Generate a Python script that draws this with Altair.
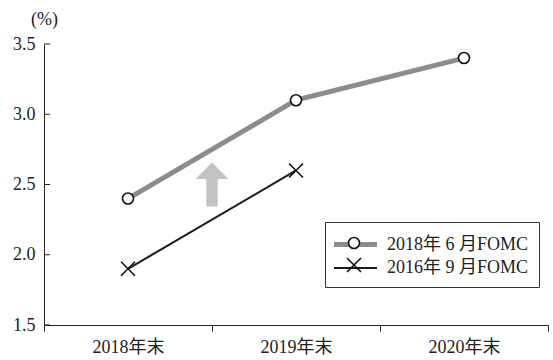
import altair as alt
import pandas as pd

# Year-end projections (%) from two FOMC meetings
categories = ["2018年末", "2019年末", "2020年末"]
series_names = ["2018年 6 月FOMC", "2016年 9 月FOMC"]
june_2018 = [2.4, 3.1, 3.4]
sept_2016 = [1.9, 2.6]
y_ticks = [1.5, 2.0, 2.5, 3.0, 3.5]

# Upward-shift arrow placed between the first two year-ends
arrow_cat = ["2018年末"]
arrow_value = [2.5]

rows = []
for c, v in zip(categories, june_2018):
    rows.append({"cat": c, "value": v, "series": series_names[0]})
for c, v in zip(categories, sept_2016):
    rows.append({"cat": c, "value": v, "series": series_names[1]})
df = pd.DataFrame(rows)
df["series_m"] = df["series"]

W, H = 504, 281
FONT = "'Liberation Serif', 'Noto Sans CJK JP', serif"
FS = 18

xs = alt.Scale(domain=categories, paddingInner=0, paddingOuter=0)
ys = alt.Scale(domain=[1.5, 3.5], nice=False, zero=False)

# symbol paths in units of half the symbol side (size 400 -> 10 px per unit)
MSIZE = 400
CIRCLE = "M-0.55,0A0.55,0.55 0 1 1 0.55,0A0.55,0.55 0 1 1 -0.55,0Z"
XMARK = "M-0.7,-0.7L0.7,0.7M0.7,-0.7L-0.7,0.7"
SWATCH = "M-2.15,0L2.15,0"
ARROW = "M0,-1L0.75,-0.245L0.26,-0.245L0.26,1L-0.26,1L-0.26,-0.245L-0.75,-0.245Z"

LEG_X, LEG_Y = 281, 178
PAD = 10

# Two legends share one spot: line swatches underneath, marker swatches on top
common = dict(title=None, orient="none", legendX=LEG_X, legendY=LEG_Y,
              symbolSize=MSIZE, padding=PAD, rowPadding=2, labelFont=FONT,
              labelFontSize=FS, labelOffset=19, symbolOffset=8)
line_legend = dict(common, symbolType=SWATCH, strokeColor="#333", fillColor="white",
                   labelColor="#222", zindex=0)
mark_legend = dict(common, symbolStrokeWidth=1.6, labelColor="transparent", zindex=1)

x_enc = alt.X("cat:N", scale=xs, sort=categories,
              axis=alt.Axis(title=None, tickBand="extent", tickSize=6,
                            labelPadding=16, labelAngle=0, labelAlign="center",
                            domainColor="#222", tickColor="#222", labelFont=FONT,
                            labelFontSize=FS, labelColor="#222"))
y_enc = alt.Y("value:Q", scale=ys,
              axis=alt.Axis(title="(%)", titleAngle=0, titleX=0, titleY=-25,
                            titleAlign="center", titleBaseline="middle",
                            titleFont=FONT, titleFontSize=FS, titleFontWeight="normal",
                            titleColor="#222", values=y_ticks, format=".1f",
                            ticks=False, labelPadding=9, domainColor="#222",
                            labelFont=FONT, labelFontSize=FS, labelColor="#222"))

lines = alt.Chart(df).mark_line().encode(
    x=x_enc,
    y=y_enc,
    color=alt.Color("series:N", sort="descending",
                    scale=alt.Scale(range=["#8c8c8c", "#1a1a1a"]),
                    legend=alt.Legend(**line_legend)),
    strokeWidth=alt.StrokeWidth("series:N", sort="descending",
                                scale=alt.Scale(range=[5, 2]),
                                legend=alt.Legend(**line_legend)),
)

points = alt.Chart(df).mark_point(filled=True, size=MSIZE, strokeWidth=1.6,
                                  opacity=1).encode(
    x=alt.X("cat:N", scale=xs, sort=categories),
    y=alt.Y("value:Q", scale=ys),
    shape=alt.Shape("series_m:N", sort="descending",
                    scale=alt.Scale(range=[CIRCLE, XMARK]),
                    legend=alt.Legend(**mark_legend)),
    fill=alt.Fill("series_m:N", sort="descending",
                  scale=alt.Scale(range=["white", "#111"]),
                  legend=alt.Legend(**mark_legend)),
    stroke=alt.Stroke("series_m:N", sort="descending",
                      scale=alt.Scale(range=["#111", "#111"]),
                      legend=alt.Legend(**mark_legend)),
)

arrow_df = pd.DataFrame({"cat": arrow_cat, "value": arrow_value})
arrow = alt.Chart(arrow_df).mark_point(shape=ARROW, filled=True, size=1936,
                                       color="#c3c3c3", opacity=1).encode(
    x=alt.X("cat:N", scale=xs, sort=categories, bandPosition=1),
    y=alt.Y("value:Q", scale=ys),
)

# inward-facing tick marks on the value axis
tick_df = pd.DataFrame({"value": y_ticks})
yticks = alt.Chart(tick_df).mark_rule(color="#222", strokeWidth=1).encode(
    y=alt.Y("value:Q", scale=ys),
    x=alt.value(0),
    x2=alt.value(6),
)

chart = alt.layer(arrow, yticks, lines, points).properties(
    width=W, height=H,
    autosize=alt.AutoSizeParams(type="none"),
    padding={"left": 44, "top": 44, "right": 5, "bottom": 35},
    background="white",
).configure_view(stroke=None).configure_axis(grid=False)

chart.save("out.html", embed_options={"renderer": "svg", "actions": False})
